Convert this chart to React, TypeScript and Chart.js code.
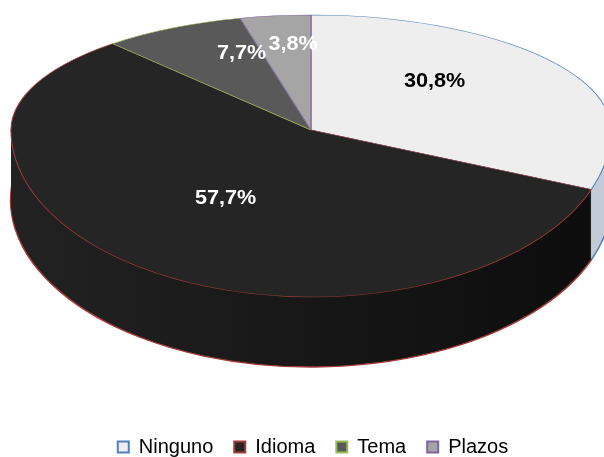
import { useEffect, useRef } from 'react';
import { Chart, registerables } from 'chart.js';

Chart.register(...registerables);

// ---- data ----
const categories = ['Ninguno', 'Idioma', 'Tema', 'Plazos'];
const percentages = [30.8, 57.7, 7.7, 3.8];
const labelTexts = percentages.map((v) => v.toFixed(1).replace('.', ',') + '%');

// ---- styles ----
const topColors = ['#EEEEEE', '#252525', '#595959', '#A5A5A5'];
const edgeColors = ['#4F81BD', '#A03C3A', '#9BBB59', '#8064A2'];
const sideColors = ['#C3CBD8', '#161616', '#3E3E3E', '#7F7F7F'];
const labelColors = ['#000000', '#FFFFFF', '#FFFFFF', '#FFFFFF'];

const FONT = '"Liberation Sans", Arial, Helvetica, sans-serif';

// 3D projection geometry (screen space)
const GEO = { cx: 311, cy: 130, rx: 300, ryBack: 115, ryFront: 167, depth: 70 };

const pie3d = {
  id: 'pie3d',
  beforeDatasetsDraw(chart: any) {
    const ctx: CanvasRenderingContext2D = chart.ctx;
    const arcs = chart.getDatasetMeta(0).data;
    if (!arcs.length) return false;
    const { x: ax, y: ay, outerRadius: R } = arcs[0].getProps(['x', 'y', 'outerRadius'], true);
    const W = chart.width;
    const H = chart.height;

    const applyT = (ry: number, dy: number) => {
      ctx.translate(GEO.cx, GEO.cy + dy);
      ctx.scale(GEO.rx / R, ry / R);
      ctx.translate(-ax, -ay);
    };
    const drawWith = (el: any, over: any) => {
      const orig = el.options;
      el.options = Object.assign({}, orig, over);
      el.draw(ctx);
      el.options = orig;
    };

    // side wall (front half only)
    ctx.save();
    ctx.beginPath();
    ctx.rect(0, GEO.cy, W, H);
    ctx.clip();
    for (let d = GEO.depth; d >= 1; d--) {
      ctx.save();
      applyT(GEO.ryFront, d);
      const grad = ctx.createLinearGradient(ax - R, 0, ax + R, 0);
      grad.addColorStop(0, '#222222');
      grad.addColorStop(0.5, '#171717');
      grad.addColorStop(1, '#0c0c0c');
      arcs.forEach((el: any, i: number) => {
        const side = i === 1 ? grad : sideColors[i];
        const last = d === GEO.depth;
        drawWith(el, {
          backgroundColor: side,
          borderColor: last ? edgeColors[i] : side,
          borderWidth: last ? 1.6 : 0,
        });
      });
      ctx.restore();
    }
    ctx.restore();

    // top face, back half
    ctx.save();
    ctx.beginPath();
    ctx.rect(0, 0, W, GEO.cy + 1);
    ctx.clip();
    applyT(GEO.ryBack, 0);
    arcs.forEach((el: any) => el.draw(ctx));
    ctx.restore();

    // top face, front half
    ctx.save();
    ctx.beginPath();
    ctx.rect(0, GEO.cy, W, H);
    ctx.clip();
    applyT(GEO.ryFront, 0);
    arcs.forEach((el: any) => el.draw(ctx));
    ctx.restore();

    return false;
  },
  afterDraw(chart: any) {
    const ctx: CanvasRenderingContext2D = chart.ctx;
    const arcs = chart.getDatasetMeta(0).data;
    arcs.forEach((el: any, i: number) => {
      const { startAngle, endAngle } = el.getProps(['startAngle', 'endAngle'], true);
      const mid = (startAngle + endAngle) / 2;
      const c = Math.cos(mid);
      const s = Math.sin(mid);
      const back = s < 0;
      const x = GEO.cx + 0.5 * GEO.rx * c;
      const y = GEO.cy + s * (back ? GEO.ryBack * 0.75 : GEO.ryFront * 0.5);
      ctx.save();
      ctx.translate(x, y);
      ctx.scale(1.08, 1);
      ctx.font = `bold 20px ${FONT}`;
      ctx.fillStyle = labelColors[i];
      ctx.textAlign = 'center';
      ctx.textBaseline = 'middle';
      ctx.fillText(labelTexts[i], 0, 0);
      ctx.restore();
    });
  },
};

export default function App() {
  const ref = useRef<HTMLCanvasElement | null>(null);

  useEffect(() => {
    if (!ref.current) return;
    const chart = new Chart(ref.current, {
      type: 'pie',
      data: {
        labels: categories,
        datasets: [
          {
            data: percentages,
            backgroundColor: topColors,
            borderColor: edgeColors,
            borderWidth: 0.75,
          },
        ],
      },
      options: {
        responsive: false,
        animation: false,
        layout: { padding: { left: 22, right: 0, top: 0, bottom: -10 } },
        plugins: {
          legend: {
            position: 'bottom',
            labels: {
              boxWidth: 11,
              boxHeight: 11,
              padding: 21,
              color: '#000000',
              font: { size: 20, family: FONT },
              generateLabels: (c: any) => {
                const base = (Chart as any).overrides.doughnut.plugins.legend.labels.generateLabels(c);
                return base.map((it: any) => ({ ...it, lineWidth: 2 }));
              },
            },
          },
          tooltip: { enabled: false },
        },
      },
      plugins: [pie3d],
    } as any);
    return () => chart.destroy();
  }, []);

  return (
    <div style={{ position: 'fixed', left: 0, top: 0, width: 604, height: 457, background: '#fff' }}>
      <canvas ref={ref} width={604} height={457} style={{ display: 'block' }} />
    </div>
  );
}
